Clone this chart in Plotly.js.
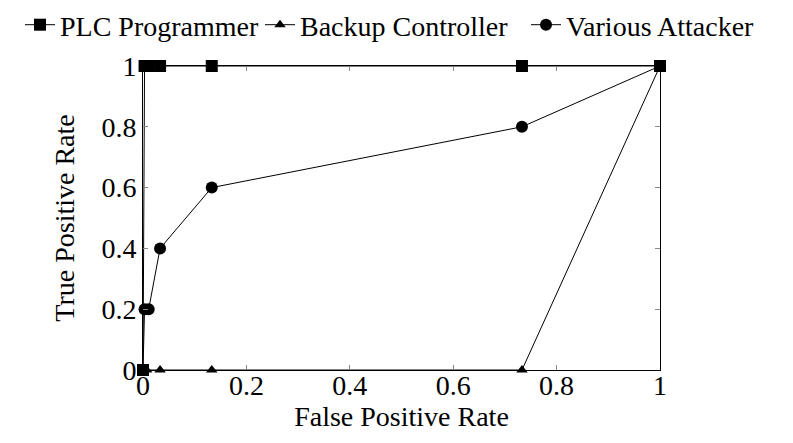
<!DOCTYPE html>
<html>
<head>
<meta charset="utf-8">
<script src="https://cdn.plot.ly/plotly-3.0.1.min.js"></script>
<style>
html,body{margin:0;padding:0;background:#fff;}
#chart{width:793px;height:443px;}
.modebar,.modebar-container{display:none !important;}
#chart svg text{font-family:"Liberation Serif", "Times New Roman", serif !important;}
</style>
</head>
<body>
<div id="chart"></div>
<script>
const plcX = [0, 0.003, 0.011, 0.033, 0.133, 0.733, 1];
const plcY = [0, 1, 1, 1, 1, 1, 1];
const backupX = [0, 0.007, 0.033, 0.133, 0.733, 1];
const backupY = [0, 0, 0, 0, 0, 1];
const attackerX = [0, 0.003, 0.011, 0.033, 0.133, 0.733, 1];
const attackerY = [0, 0.2, 0.2, 0.4, 0.6, 0.8, 1];
const tickVals = [0, 0.2, 0.4, 0.6, 0.8, 1];
const tickText = ['0', '0.2', '0.4', '0.6', '0.8', '1'];

function f() { return {family: 'Liberation Serif', color: '#000', size: 28}; }
const traces = [
  {x: plcX, y: plcY, name: 'PLC Programmer', legend: 'legend', mode: 'lines+markers', cliponaxis: false,
   line: {color: '#000', width: 1}, marker: {symbol: 'square', size: 12, color: '#000'}},
  {x: backupX, y: backupY, name: 'Backup Controller', legend: 'legend2', mode: 'lines+markers', cliponaxis: false,
   line: {color: '#000', width: 1}, marker: {symbol: 'triangle-up', size: 10, color: '#000'}},
  {x: attackerX, y: attackerY, name: 'Various Attacker', legend: 'legend3', mode: 'lines+markers', cliponaxis: false,
   line: {color: '#000', width: 1}, marker: {symbol: 'circle', size: 12, color: '#000'}}
];
function axis(title, standoff, labelStandoff) {
  return {
    range: [0, 1], tickvals: tickVals, ticktext: tickText,
    ticks: 'inside', ticklen: 5, tickcolor: '#888', tickwidth: 1,
    showline: true, linecolor: '#000', linewidth: 1, mirror: 'ticks',
    showgrid: false, zeroline: false, tickfont: f(), ticklabelstandoff: labelStandoff,
    title: {text: title, font: f(), standoff: standoff}
  };
}
function leg(x) {
  return {orientation: 'h', xref: 'container', yref: 'container', x: x, xanchor: 'left',
          y: 1, yanchor: 'top', font: f(), bgcolor: 'rgba(0,0,0,0)', borderwidth: 0};
}
const layout = {
  width: 793, height: 443,
  margin: {l: 143, r: 133, t: 66, b: 73, autoexpand: false},
  paper_bgcolor: '#fff', plot_bgcolor: '#fff',
  font: f(),
  showlegend: true,
  legend: leg(20 / 793),
  legend2: leg(260 / 793),
  legend3: leg(526 / 793),
  xaxis: axis('False Positive Rate', 0, -10),
  yaxis: axis('True Positive Rate', 18, 0)
};
Plotly.newPlot('chart', traces, layout);
</script>
</body>
</html>
